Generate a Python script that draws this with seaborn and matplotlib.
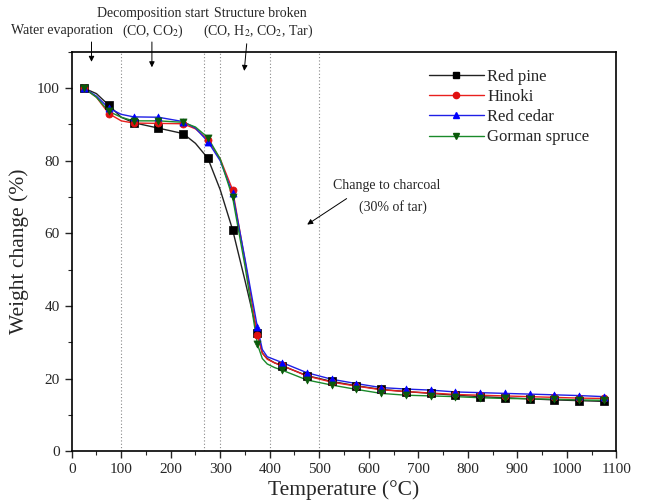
import matplotlib
matplotlib.use("Agg")
import matplotlib.pyplot as plt
from matplotlib.lines import Line2D
from matplotlib.ticker import MultipleLocator
import seaborn as sns
import pandas as pd

# marker temperatures (every 50 C)
temps = [25, 75, 125, 175, 225, 275, 325, 375, 425, 475, 525, 575, 625,
         675, 725, 775, 825, 875, 925, 975, 1025, 1075]
red_pine = [100, 95.3, 90.5, 89.0, 87.5, 80.7, 61.0, 32.5, 23.5, 20.8, 19.2,
            18.0, 17.0, 16.4, 15.9, 15.4, 15.0, 14.7, 14.4, 14.1, 13.9, 13.7]
hinoki = [100, 93.0, 90.4, 90.3, 90.2, 85.8, 72.0, 32.0, 23.6, 20.7, 19.0,
          17.9, 16.9, 16.4, 16.0, 15.6, 15.4, 15.2, 15.0, 14.8, 14.6, 14.5]
red_cedar = [100, 94.5, 92.1, 92.0, 90.8, 85.3, 71.0, 34.2, 24.4, 21.6, 19.8,
             18.6, 17.5, 17.1, 16.8, 16.3, 16.1, 15.9, 15.7, 15.5, 15.3, 15.0]
gorman = [100, 93.6, 91.0, 91.0, 90.6, 86.4, 69.9, 29.5, 22.3, 19.6, 18.2,
          17.0, 15.9, 15.4, 15.2, 15.0, 14.7, 14.5, 14.4, 14.3, 14.1, 14.0]

# extra curve readings between markers (no marker drawn)
extra_temps = [50, 100, 250, 300, 350, 385, 395, 410]
red_pine_extra = [98.5, 92.0, 84.8, 72.0, 47.0, 27.0, 25.5, 24.3]
hinoki_extra = [97.5, 91.0, 88.8, 80.5, 52.5, 27.0, 25.3, 24.3]
red_cedar_extra = [97.8, 92.8, 89.0, 80.0, 53.0, 28.0, 26.0, 25.2]
gorman_extra = [97.5, 92.0, 89.3, 80.5, 51.0, 25.5, 24.0, 23.0]

names = ["Red pine", "Hinoki", "Red cedar", "Gorman spruce"]
series = [red_pine, hinoki, red_cedar, gorman]
extras = [red_pine_extra, hinoki_extra, red_cedar_extra, gorman_extra]
colors = ["#222222", "#e8201e", "#1f1fe6", "#1a8a2a"]
mcolors = ["black", "#e01010", "#0000ff", "#0a5a0a"]
markers = ["s", "o", "^", "v"]

stage_lines = [100, 268, 300, 400, 500]

sns.set_style("ticks")
plt.rcParams["font.family"] = ["Liberation Serif", "DejaVu Serif"]
plt.rcParams["mathtext.fontset"] = "stix"

fig = plt.figure(figsize=(6.46, 5.04), dpi=100)
ax = fig.add_axes([0.111, 0.105, 0.843, 0.792])

for x in stage_lines:
    ax.axvline(x, color="#888888", ls=(0, (1, 2)), lw=0.8, zorder=1)

handles = []
for name, vals, ext, c, mc, m in zip(names, series, extras, colors, mcolors, markers):
    curve = pd.DataFrame({"T": temps + extra_temps, "W": vals + ext}).sort_values("T")
    sns.lineplot(data=curve, x="T", y="W", color=c, lw=1.0, ax=ax, sort=True, zorder=2)
    sns.scatterplot(x=temps, y=vals, marker=m, color=mc, edgecolor=mc, s=26,
                    linewidth=0.5, ax=ax, zorder=3)
    handles.append(Line2D([], [], color=c, lw=1.0, marker=m, markersize=4.5,
                          markerfacecolor=mc, markeredgecolor=mc, label=name))

ax.set_xlim(0, 1100)
ax.set_ylim(0, 110)
ax.xaxis.set_major_locator(MultipleLocator(100))
ax.xaxis.set_minor_locator(MultipleLocator(50))
ax.yaxis.set_major_locator(MultipleLocator(20))
ax.yaxis.set_minor_locator(MultipleLocator(10))
ax.tick_params(which="both", direction="out", top=False, right=False, labelsize=11)
ax.tick_params(which="major", length=5, width=1)
ax.tick_params(which="minor", length=3, width=0.8)
for sp in ax.spines.values():
    sp.set_visible(True)
    sp.set_linewidth(1.2)
    sp.set_color("black")

ax.set_xlabel("Temperature (°C)", fontsize=15.5, labelpad=3)
ax.set_ylabel("Weight change (%)", fontsize=15.5, labelpad=6)

ax.legend(handles=handles, loc="upper right", frameon=False, fontsize=12,
          handlelength=3.3, handletextpad=0.2, labelspacing=0.25,
          bbox_to_anchor=(0.978, 0.995))

# stage annotations above the plot
txt = dict(fontsize=10, ha="center", va="center", clip_on=False)
ax.text(-20, 116, "Water evaporation", **txt)
ax.text(164, 120.5, "Decomposition start", **txt)
ax.text(164, 115.8, "(CO, CO$_2$)", **txt)
ax.text(382, 120.5, "Structure broken", **txt)
ax.text(376, 115.8, "(CO, H$_2$, CO$_2$, Tar)", **txt)
arrow = dict(arrowstyle="-|>", color="black", lw=0.7, mutation_scale=8)
ax.annotate("", xy=(40, 106.5), xytext=(40, 113.5), arrowprops=arrow, annotation_clip=False)
ax.annotate("", xy=(162, 105), xytext=(162, 113.5), arrowprops=arrow, annotation_clip=False)
ax.annotate("", xy=(348, 104), xytext=(354, 113), arrowprops=arrow, annotation_clip=False)

ax.text(637, 73.3, "Change to charcoal", **txt)
ax.text(649, 67.2, "(30% of tar)", **txt)
ax.annotate("", xy=(471, 62), xytext=(560, 70), arrowprops=arrow)

fig.savefig("out.png", dpi=100)
